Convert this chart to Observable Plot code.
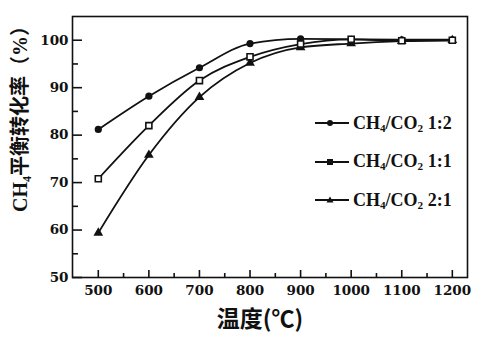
<!DOCTYPE html>
<html><head><meta charset="utf-8">
<script src="https://cdn.jsdelivr.net/npm/d3@7"></script>
<script src="https://cdn.jsdelivr.net/npm/@observablehq/plot@0.6"></script>
<style>
body{margin:0;background:#fff;}
#wrap{position:relative;width:478px;height:338px;}
#legend{position:absolute;left:313px;top:104px;font-family:"Liberation Serif",serif;font-weight:bold;font-size:18px;color:#111;}
.row{display:flex;align-items:center;height:38.5px;}
.row svg{margin-right:2px;}
sub{font-size:0.62em;vertical-align:-0.25em;line-height:0;}
</style></head><body><div id="wrap"><div id="legend"></div></div>
<script>
const temps = [500, 600, 700, 800, 900, 1000, 1100, 1200];
const seriesNames = ["1:2", "1:1", "2:1"];
const s12 = [81.2, 88.2, 94.2, 99.3, 100.3, 100.2, 100.1, 100.1];
const s11 = [70.8, 82.0, 91.5, 96.5, 99.2, 100.2, 99.9, 100.0];
const s21 = [59.4, 75.8, 88.0, 95.2, 98.5, 99.3, 99.8, 100.0];
const yMajor = [50, 60, 70, 80, 90, 100];
const yMinor = [55, 65, 75, 85, 95];
const xMajor = [500, 600, 700, 800, 900, 1000, 1100, 1200];
const xMinor = [550, 650, 750, 850, 950, 1050, 1150];
const xLabel = "温度(℃)";
const yLabel = "CH₄平衡转化率（%）";

const data = [];
[s12, s11, s21].forEach((vals, i) => vals.forEach((v, j) => data.push({s: seriesNames[i], t: temps[j], v})));

const W = 478, H = 338, mL = 72, mR = 11, mT = 16, mB = 61;
const fw = W - mL - mR, fh = H - mT - mB;
const tickFont = {fontFamily: "DejaVu Serif", fontWeight: "bold", fontSize: 13.5};

const chart = Plot.plot({
  width: W, height: H,
  marginLeft: mL, marginRight: mR, marginTop: mT, marginBottom: mB,
  style: {background: "white", color: "#111", fontFamily: "DejaVu Serif"},
  x: {domain: [449, 1230]},
  y: {domain: [50, 105]},
  symbol: {domain: seriesNames, range: ["circle", "square", "triangle"]},
  marks: [
    Plot.axisX(xMajor, {tickSize: 0, tickPadding: 8, label: null, tickFormat: d => String(d), ...tickFont}),
    Plot.axisY(yMajor, {tickSize: 0, tickPadding: 4, label: null, tickFormat: d => String(d), ...tickFont}),
    Plot.ruleY(yMajor, {stroke: "#111", strokeWidth: 1.6, insetRight: fw - 10}),
    Plot.ruleY(yMinor, {stroke: "#111", strokeWidth: 1.6, insetRight: fw - 6}),
    Plot.ruleX(xMajor, {stroke: "#111", strokeWidth: 1.6, insetTop: fh - 7}),
    Plot.ruleX(xMinor, {stroke: "#111", strokeWidth: 1.6, insetTop: fh - 4}),
    Plot.frame({stroke: "#111", strokeWidth: 1.6}),
    Plot.line(data, {x: "t", y: "v", z: "s", stroke: "#111", strokeWidth: 1.8, curve: "monotone-x"}),
    Plot.dot(data.filter(d => d.s !== "1:1"), {x: "t", y: "v", symbol: "s", fill: "#111", r: 3.6}),
    Plot.dot(data.filter(d => d.s === "1:1"), {x: "t", y: "v", symbol: "s", fill: "white", stroke: "#111", strokeWidth: 1.6, r: 3.4}),
    Plot.text([yLabel], {text: d => d, frameAnchor: "left", textAnchor: "middle", lineAnchor: "middle", dx: -52, dy: -33, rotate: -90, fontSize: 20, fontWeight: "bold", fontFamily: "Liberation Serif, Noto Sans CJK SC", fill: "#111"}),
    Plot.text([xLabel], {text: d => d, frameAnchor: "bottom", lineAnchor: "middle", dy: 42, dx: -10, fontSize: 23, fontWeight: "bold", fontFamily: "Noto Sans CJK SC", fill: "#111"})
  ]
});
const wrap = document.getElementById("wrap");
wrap.insertBefore(chart, wrap.firstChild);

const legend = document.getElementById("legend");
const shapes = {
  "1:2": '<circle cx="17" cy="7" r="3" fill="#111"/>',
  "1:1": '<rect x="14" y="4" width="6" height="6" fill="#111"/>',
  "2:1": '<path d="M17,3.5L20.5,9.5L13.5,9.5Z" fill="#111"/>'
};
seriesNames.forEach(n => {
  const row = document.createElement("div");
  row.className = "row";
  row.innerHTML = `<svg width="38" height="14"><line x1="2" y1="7" x2="36" y2="7" stroke="#111" stroke-width="2"/>${shapes[n]}</svg><span>CH<sub>4</sub>/CO<sub>2</sub> ${n}</span>`;
  legend.appendChild(row);
});
</script>
</body></html>
